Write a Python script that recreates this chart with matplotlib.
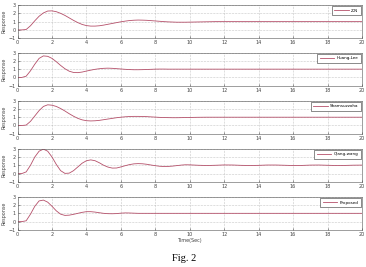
import matplotlib.pyplot as plt
import numpy as np

# time grid (s): 0.25 s steps up to 10, then 0.5 s steps up to 20
t_fine = [i * 0.25 for i in range(41)]
t_coarse = [10.5 + i * 0.5 for i in range(20)]
time = t_fine + t_coarse

zn = [0, 0, 0.05, 0.5, 1.1, 1.65, 2.05, 2.28, 2.3, 2.2, 2.0, 1.75, 1.45, 1.15, 0.88, 0.66,
      0.52, 0.46, 0.46, 0.5, 0.58, 0.68, 0.78, 0.88, 0.98, 1.06, 1.13, 1.17, 1.19, 1.18,
      1.16, 1.12, 1.08, 1.04, 1.0, 0.97, 0.95, 0.93, 0.93, 0.93, 0.94,
      0.96, 0.98, 1.0, 1.0, 1.0, 1.0, 1.0, 1.0, 1.0, 1.0, 1.0, 1.0, 1.0, 1.0, 1.0, 1.0,
      1.0, 1.0, 1.0, 1.0]
huang_lee = [0, 0, 0.15, 0.8, 1.6, 2.3, 2.6, 2.55, 2.3, 1.9, 1.45, 1.05, 0.75, 0.6, 0.58,
             0.65, 0.77, 0.88, 0.98, 1.05, 1.1, 1.12, 1.1, 1.06, 1.02, 0.98, 0.95, 0.93,
             0.93, 0.94, 0.96, 0.98, 1.0, 1.01, 1.01, 1.0, 1.0, 1.0, 1.0, 1.0, 1.0,
             1.0, 1.0, 1.0, 1.0, 1.0, 1.0, 1.0, 1.0, 1.0, 1.0, 1.0, 1.0, 1.0, 1.0, 1.0,
             1.0, 1.0, 1.0, 1.0, 1.0]
shamsuzzoha = [0, 0, 0.05, 0.5, 1.15, 1.8, 2.3, 2.5, 2.45, 2.3, 2.05, 1.75, 1.42, 1.12,
               0.86, 0.68, 0.58, 0.55, 0.57, 0.62, 0.7, 0.78, 0.86, 0.94, 1.0, 1.05, 1.08,
               1.1, 1.1, 1.09, 1.07, 1.04, 1.01, 0.98, 0.96, 0.95, 0.94, 0.94, 0.95, 0.96,
               0.97, 0.99, 1.0, 1.0, 1.0, 1.0, 1.0, 1.0, 1.0, 1.0, 1.0, 1.0, 1.0, 1.0, 1.0,
               1.0, 1.0, 1.0, 1.0, 1.0, 1.0]
qiang_wang = [0, 0, 0.2, 1.0, 2.0, 2.7, 2.95, 2.7, 2.0, 1.1, 0.35, 0.02, 0.05, 0.35, 0.8,
              1.25, 1.55, 1.65, 1.55, 1.3, 1.0, 0.78, 0.66, 0.67, 0.8, 0.95, 1.08, 1.17,
              1.2, 1.18, 1.12, 1.03, 0.95, 0.88, 0.85, 0.86, 0.9, 0.96, 1.02, 1.06, 1.05,
              1.0, 0.97, 1.0, 1.04, 1.03, 0.99, 0.97, 0.99, 1.03, 1.03, 1.0, 0.97, 0.98,
              1.02, 1.03, 1.0, 0.97, 0.98, 1.01, 1.02]
proposed = [0, 0, 0.1, 0.9, 1.85, 2.5, 2.6, 2.35, 1.85, 1.3, 0.9, 0.75, 0.78, 0.88, 1.0,
            1.12, 1.2, 1.2, 1.15, 1.07, 1.0, 0.96, 0.95, 0.97, 1.02, 1.05, 1.04, 1.02, 1.0,
            1.0, 1.0, 1.0, 1.0, 1.0, 1.0, 1.0, 1.0, 1.0, 1.0, 1.0, 1.0,
            1.0, 1.0, 1.0, 1.0, 1.0, 1.0, 1.0, 1.0, 1.0, 1.0, 1.0, 1.0, 1.0, 1.0, 1.0,
            1.0, 1.0, 1.0, 1.0, 1.0]

labels = ["Z-N", "Huang,Lee", "Shamsuzzoha", "Qiang-wang", "Proposed"]
series = [zn, huang_lee, shamsuzzoha, qiang_wang, proposed]
x_ticks = list(range(0, 21, 2))
y_ticks = [-1, 0, 1, 2, 3]

fig = plt.figure(figsize=(3.66, 2.67), dpi=100)
plt.rcParams["font.family"] = "DejaVu Sans"

bottoms = [0.857, 0.679, 0.499, 0.319, 0.139]
for label, vals, bottom in zip(labels, series, bottoms):
    ax = fig.add_axes([0.048, bottom, 0.941, 0.124])
    ax.plot(time, vals, color="#b5506a", linewidth=0.6, label=label)
    ax.set_xlim(0, 20)
    ax.set_ylim(-1, 3)
    ax.set_xticks(x_ticks)
    ax.set_yticks(y_ticks)
    ax.tick_params(direction="in", length=1.5, width=0.4, labelsize=3.5, pad=1.5,
                   colors="#444444")
    ax.grid(True, linestyle=":", linewidth=0.4, color="#999999")
    ax.set_ylabel("Response", fontsize=3.5, labelpad=1.5, color="#444444")
    for s in ax.spines.values():
        s.set_linewidth(0.4)
        s.set_color("#555555")
    leg = ax.legend(loc="upper right", fontsize=3, handlelength=3.5, handletextpad=0.5,
                    borderpad=0.6, fancybox=False, framealpha=1, borderaxespad=0.3)
    leg.get_frame().set_linewidth(0.4)
    leg.get_frame().set_edgecolor("#333333")
    if label == "Proposed":
        ax.set_xlabel("Time(Sec)", fontsize=3.5, labelpad=1, color="#444444")

fig.text(0.503, 0.022, "Fig. 2", fontsize=7.5, family="Liberation Serif", ha="center")
fig.savefig("out.png", dpi=100)
